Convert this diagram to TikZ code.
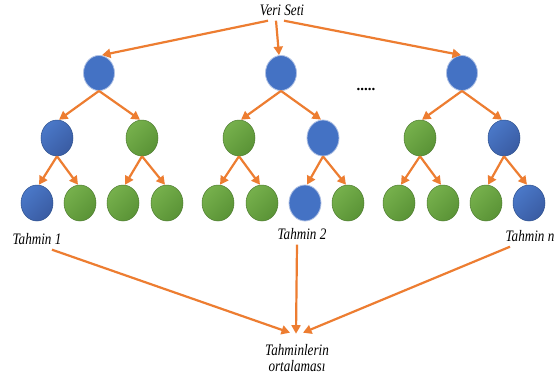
\documentclass[tikz,border=0pt]{standalone}
\usepackage{fontspec}
\usetikzlibrary{arrows.meta,shapes.geometric}
\newfontfamily\lblfont{Liberation Serif}[FakeStretch=0.82]
\newfontfamily\dotfont{Liberation Serif}
\definecolor{arrowc}{HTML}{ED7D31}
\definecolor{blueflat}{HTML}{4472C4}
\definecolor{bluerim}{HTML}{AEC0E4}
\definecolor{bluetop}{HTML}{4A78C8}
\definecolor{bluebot}{HTML}{3A5CA3}
\definecolor{blueline}{HTML}{2F528F}
\definecolor{greentop}{HTML}{76B04C}
\definecolor{greenbot}{HTML}{5A9336}
\definecolor{greenline}{HTML}{507E32}
\begin{document}
\begin{tikzpicture}[x=1pt,y=-1pt,
  lbl/.style={font=\lblfont\itshape\fontsize{16}{16}\selectfont,
    inner sep=2pt, text height=10pt, text depth=3pt},
  arr/.style={draw=arrowc, line width=2.2pt,
    -{Triangle[length=8.5pt,width=9pt]}},
  blob/.style={ellipse, inner sep=0pt, minimum width=32pt, minimum height=36pt},
  top/.style={minimum width=31pt, minimum height=35pt},
  bflat/.style={blob, fill=blueflat, draw=bluerim, line width=0.8pt},
  bgrad/.style={blob, top color=bluetop, bottom color=bluebot,
    shading angle=45, draw=blueline, line width=0.5pt},
  ggrad/.style={blob, top color=greentop, bottom color=greenbot,
    shading angle=45, draw=greenline, line width=0.5pt}]
\useasboundingbox (0,0) rectangle (555,376);
\fill[white] (0,0) rectangle (555,376);

% data set label
\node[lbl] (veri) at (282,12) {Veri Seti};

% roots of the three trees
\node[bflat,top] (ra) at (99,73) {};
\node[bflat,top] (rb) at (281,73) {};
\node[bflat,top] (rc) at (462,73) {};
\node[anchor=base, inner sep=0pt, font=\dotfont\bfseries\fontsize{15}{15}\selectfont] (dots) at (366,90) {.....};

% second level
\node[bgrad] (a1) at (57,138) {};
\node[ggrad] (a2) at (142,138) {};
\node[ggrad] (b1) at (239,138) {};
\node[bflat] (b2) at (323,138) {};
\node[ggrad] (c1) at (420,138) {};
\node[bgrad] (c2) at (504,138) {};

% leaves
\node[bgrad] (a11) at (37,203) {};
\node[ggrad] (a12) at (80,203) {};
\node[ggrad] (a21) at (123,203) {};
\node[ggrad] (a22) at (167,203) {};
\node[ggrad] (b11) at (218,203) {};
\node[ggrad] (b12) at (262,203) {};
\node[bflat] (b21) at (305,203) {};
\node[ggrad] (b22) at (348,203) {};
\node[ggrad] (c11) at (399,203) {};
\node[ggrad] (c12) at (443,203) {};
\node[ggrad] (c21) at (486,203) {};
\node[bgrad] (c22) at (529,203) {};

% predictions and their average
\node[lbl] (t1) at (37,241) {Tahmin 1};
\node[lbl] (t2) at (302,236) {Tahmin 2};
\node[lbl] (tn) at (530,238) {Tahmin n};
\node[lbl, text height=, text depth=, align=center, anchor=base] (avg) at (297,371) {Tahminlerin\\ortalaması};

% sampling arrows
\draw[arr] ([xshift=-14pt]veri.south) -- ([xshift=3pt]ra.north);
\draw[arr] ([xshift=-6pt]veri.south) -- ([xshift=-2pt]rb.north);
\draw[arr] ([xshift=2pt]veri.south) -- ([xshift=-1pt]rc.north);

% tree edges
\foreach \p/\l/\r in {ra/a1/a2, rb/b1/b2, rc/c1/c2,
    a1/a11/a12, a2/a21/a22, b1/b11/b12, b2/b21/b22, c1/c11/c12, c2/c21/c22} {
  \draw[arr] (\p.south) -- ([xshift=2pt]\l.north);
  \draw[arr] (\p.south) -- ([xshift=-2pt]\r.north);
}

% aggregation arrows
\draw[arr] ([xshift=15pt]t1.south) -- ([xshift=-7pt,yshift=9pt]avg.north);
\draw[arr] ([xshift=-5pt]t2.south) -- ([xshift=-1pt,yshift=8pt]avg.north);
\draw[arr] ([xshift=-20pt]tn.south) -- ([xshift=6pt,yshift=9pt]avg.north);
\end{tikzpicture}
\end{document}
